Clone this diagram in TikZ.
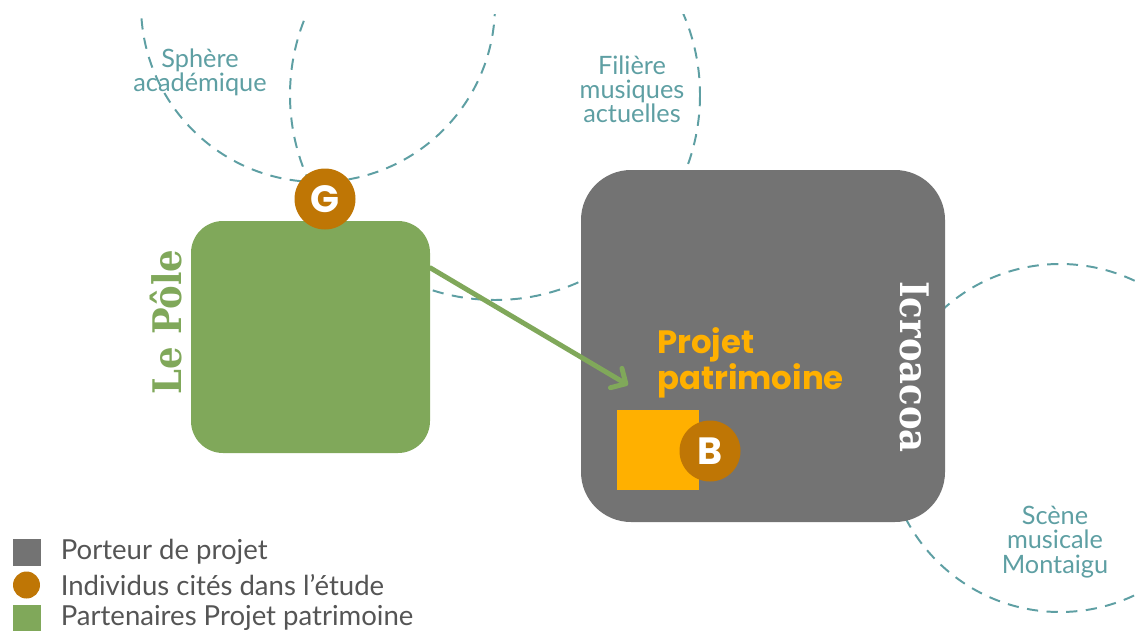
\documentclass[tikz,border=0pt]{standalone}
\usepackage{fontspec}
\setmainfont{Lato}
\newfontfamily\namefont{DejaVu Serif Condensed}
\newfontfamily\headfont{Poppins}
\usetikzlibrary{positioning,arrows.meta}
\definecolor{polegreen}{HTML}{80A85A}
\definecolor{carriergray}{HTML}{737373}
\definecolor{personbrown}{HTML}{BF7605}
\definecolor{projectorange}{HTML}{FFB000}
\definecolor{spheredash}{HTML}{5E9FA3}
\definecolor{keytextgray}{HTML}{555555}
\newcommand{\px}{0.025cm}
\tikzset{
  sphere/.style={draw=spheredash,line width=1.4pt,dash pattern=on 8pt off 6pt},
  spherelabel/.style={text=spheredash,align=center,font=\fontsize{18}{17.2}\selectfont},
  actorname/.style={font=\namefont\bfseries\fontsize{28}{28}\selectfont},
  person/.style={circle,fill=personbrown,minimum size=61*\px,inner sep=0,text=white,
    font=\headfont\bfseries\fontsize{27}{27}\selectfont},
  keybox/.style={minimum width=28*\px,minimum height=27*\px,inner sep=0,outer sep=0},
  keytext/.style={anchor=west,inner sep=0,text=keytextgray,font=\fontsize{19.6}{19.6}\selectfont},
  partnerlink/.style={draw=polegreen,line width=3.5pt,line cap=round,
    -{Straight Barb[length=8pt,width=16pt,round]}}
}
\begin{document}
\begin{tikzpicture}[x=\px,y=-\px]
\useasboundingbox (0,0) rectangle (1141,630);
\begin{scope}
  \clip (0,15) rectangle (1141,630);
  \draw[sphere] (318,5) circle (177);
  \draw[sphere] (495,95) circle (205);
  \draw[sphere] (1060,438) circle (174);
\end{scope}
\node[spherelabel] (academic) at (200,72) {Sphère\\académique};
\node[spherelabel] (musicfield) at (632,89) {Filière\\musiques\\actuelles};
\node[spherelabel] (montaigu) at (1055,542) {Scène\\musicale\\Montaigu};

\node[fill=polegreen,rounded corners=0.8cm,minimum width=239*\px,minimum height=232*\px,inner sep=0] (pole) at (310.5,337) {};
\node[fill=carriergray,rounded corners=1.25cm,minimum width=364*\px,minimum height=352*\px,inner sep=0] (carrier) at (763,346) {};
\node[actorname,text=polegreen,rotate=90] (polename) at (166,322) {Le Pôle};
\node[actorname,text=white,rotate=-90] (carriername) at (915,367) {Icroacoa};
\node[person] (G) at (325,199) {G};

\node[anchor=north west,inner sep=0,align=left,text=projectorange,
  font=\headfont\bfseries\fontsize{23}{26}\selectfont] (project) at (657,327) {Projet\\patrimoine};
\node[fill=projectorange,minimum width=82*\px,minimum height=80*\px,inner sep=0] (projectbox) at (658,450) {};
\node[person] (B) at (710,451) {B};
\coordinate (aim) at (628,385);
\draw[partnerlink] (pole.30) -- (aim);

\node[keybox,fill=carriergray] (carrierkey) at (26.5,552) {};
\node[keybox,circle,fill=personbrown,minimum size=27*\px] (personkey) at (26.5,585) {};
\node[keybox,fill=polegreen] (partnerkey) at (26.5,618) {};
\node[keytext,right=20*\px of carrierkey] (carrierlabel) {Porteur de projet};
\node[keytext] (personlabel) at (carrierlabel.west |- personkey) {Individus cités dans l’étude};
\node[keytext] (partnerlabel) at (carrierlabel.west |- partnerkey) {Partenaires Projet patrimoine};
\end{tikzpicture}
\end{document}
